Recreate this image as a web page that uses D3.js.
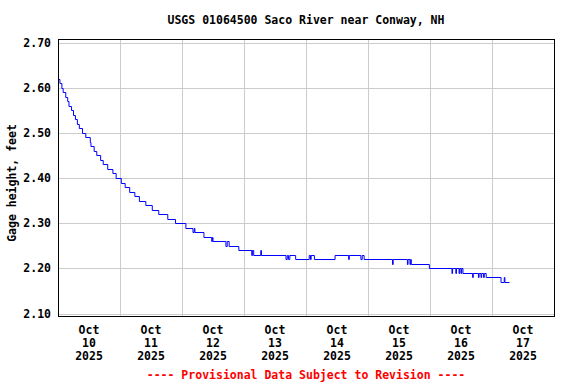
<!DOCTYPE html>
<html>
<head>
<meta charset="utf-8">
<script src="https://cdn.jsdelivr.net/npm/d3@7"></script>
<style>
  body { margin: 0; background: #fff; }
  text { font-family: "DejaVu Sans Mono", monospace; font-weight: bold; font-size: 11.5px; }
</style>
</head>
<body>
<div id="chart"></div>
<script>
// gage height readings, only where the value changes (15 minute data)
const readingTimes = [
  "2025-10-10 00:00", "2025-10-10 00:45", "2025-10-10 01:30", "2025-10-10 02:00",
  "2025-10-10 03:00", "2025-10-10 03:45", "2025-10-10 04:15", "2025-10-10 05:15",
  "2025-10-10 06:00", "2025-10-10 06:45", "2025-10-10 07:30", "2025-10-10 08:15",
  "2025-10-10 09:30", "2025-10-10 10:45", "2025-10-10 12:30", "2025-10-10 12:45",
  "2025-10-10 14:00", "2025-10-10 15:00", "2025-10-10 16:30", "2025-10-10 17:30",
  "2025-10-10 19:15", "2025-10-10 21:15", "2025-10-10 22:30",
  "2025-10-11 00:30", "2025-10-11 02:00", "2025-10-11 03:45", "2025-10-11 05:45",
  "2025-10-11 07:30", "2025-10-11 10:00", "2025-10-11 12:30", "2025-10-11 15:00",
  "2025-10-11 18:30", "2025-10-11 21:30",
  "2025-10-12 01:30", "2025-10-12 04:15", "2025-10-12 04:45", "2025-10-12 05:00",
  "2025-10-12 08:30", "2025-10-12 11:30", "2025-10-12 11:45", "2025-10-12 12:00",
  "2025-10-12 17:00", "2025-10-12 17:30", "2025-10-12 18:15", "2025-10-12 22:00",
  "2025-10-13 03:00", "2025-10-13 03:15", "2025-10-13 03:45", "2025-10-13 06:30",
  "2025-10-13 06:45", "2025-10-13 16:15", "2025-10-13 16:45", "2025-10-13 17:15",
  "2025-10-13 17:45", "2025-10-13 20:00",
  "2025-10-14 01:15", "2025-10-14 01:45", "2025-10-14 02:00", "2025-10-14 03:15",
  "2025-10-14 11:15", "2025-10-14 16:30", "2025-10-14 16:45", "2025-10-14 21:15",
  "2025-10-14 21:45", "2025-10-14 22:30",
  "2025-10-15 09:30", "2025-10-15 09:45", "2025-10-15 15:15", "2025-10-15 15:30",
  "2025-10-15 16:15", "2025-10-15 16:30", "2025-10-15 16:45", "2025-10-15 23:45",
  "2025-10-16 08:30", "2025-10-16 08:45", "2025-10-16 10:00", "2025-10-16 10:15",
  "2025-10-16 11:15", "2025-10-16 11:30", "2025-10-16 12:00", "2025-10-16 12:15",
  "2025-10-16 12:45", "2025-10-16 16:30", "2025-10-16 16:45", "2025-10-16 18:45",
  "2025-10-16 19:00", "2025-10-16 19:45", "2025-10-16 20:00", "2025-10-16 20:45",
  "2025-10-16 21:00", "2025-10-16 21:45",
  "2025-10-17 03:30", "2025-10-17 04:45", "2025-10-17 05:00", "2025-10-17 06:45"
];
const gageHeights = [
  2.62, 2.61, 2.60, 2.59,
  2.58, 2.57, 2.56, 2.55,
  2.54, 2.53, 2.52, 2.51,
  2.50, 2.49, 2.48, 2.47,
  2.46, 2.45, 2.44, 2.43,
  2.42, 2.41, 2.40,
  2.39, 2.38, 2.37, 2.36,
  2.35, 2.34, 2.33, 2.32,
  2.31, 2.30,
  2.29, 2.28, 2.29, 2.28,
  2.27, 2.26, 2.27, 2.26,
  2.25, 2.26, 2.25, 2.24,
  2.23, 2.24, 2.23, 2.24,
  2.23, 2.22, 2.23, 2.22,
  2.23, 2.22,
  2.23, 2.22, 2.23, 2.22,
  2.23, 2.22, 2.23, 2.22,
  2.23, 2.22,
  2.21, 2.22, 2.21, 2.22,
  2.21, 2.22, 2.21, 2.20,
  2.19, 2.20, 2.19, 2.20,
  2.19, 2.20, 2.19, 2.20,
  2.19, 2.18, 2.19, 2.18,
  2.19, 2.18, 2.19, 2.18,
  2.19, 2.18,
  2.17, 2.18, 2.17, 2.17
];

const yTicks = [2.10, 2.20, 2.30, 2.40, 2.50, 2.60, 2.70];
const dateRange = ["2025-10-10 00:00", "2025-10-18 00:00"];

const title = "USGS 01064500 Saco River near Conway, NH";
const yLabel = "Gage height, feet";
const footnote = "---- Provisional Data Subject to Revision ----";

const width = 576, height = 384;
// plot frame
const frame = {left: 58, right: 554, top: 39, bottom: 316};

const parseTime = d3.timeParse("%Y-%m-%d %H:%M");
const data = readingTimes.map((t, i) => ({date: parseTime(t), value: gageHeights[i]}));

let svg = d3.select("#chart").append("svg")
  .attr("width", width)
  .attr("height", height);

let x = d3.scaleTime()
  .domain(dateRange.map(parseTime))
  .range([frame.left, frame.right]);

let y = d3.scaleLinear()
  .domain([2.10, 2.70])
  .range([313.5, 42.5]);

//gridlines
let days = d3.timeDay.range(x.domain()[0], x.domain()[1]);

svg.append("g")
  .selectAll("line")
  .data(days.slice(1))
  .join("line")
  .attr("x1", d => Math.round(x(d)) + 0.5)
  .attr("x2", d => Math.round(x(d)) + 0.5)
  .attr("y1", frame.top)
  .attr("y2", frame.bottom)
  .attr("stroke", "#cccccc");

svg.append("g")
  .selectAll("line")
  .data(yTicks)
  .join("line")
  .attr("x1", frame.left)
  .attr("x2", frame.right)
  .attr("y1", d => Math.round(y(d)) + 0.5)
  .attr("y2", d => Math.round(y(d)) + 0.5)
  .attr("stroke", "#cccccc");

//the gage height line
let line = d3.line()
  .x(d => x(d.date))
  .y(d => Math.round(y(d.value)) + 0.5)
  .curve(d3.curveStepAfter);

svg.append("path")
  .datum(data)
  .attr("d", line)
  .attr("fill", "none")
  .attr("stroke", "#0000ff")
  .attr("stroke-width", 1);

//frame
svg.append("rect")
  .attr("x", frame.left + 0.5)
  .attr("y", frame.top + 0.5)
  .attr("width", frame.right - frame.left)
  .attr("height", frame.bottom - frame.top)
  .attr("fill", "none")
  .attr("stroke", "black")
  .attr("stroke-width", 1);

//y tick labels
svg.append("g")
  .selectAll("text")
  .data(yTicks)
  .join("text")
  .attr("x", 51)
  .attr("y", d => y(d) + 4)
  .attr("text-anchor", "end")
  .text(d => d3.format(".2f")(d));

//x tick labels, centred on noon of each day
let fmtMonth = d3.timeFormat("%b"), fmtDay = d3.timeFormat("%-d"), fmtYear = d3.timeFormat("%Y");
let xLabels = svg.append("g")
  .selectAll("text")
  .data(days)
  .join("text")
  .attr("text-anchor", "middle");

xLabels.append("tspan")
  .attr("x", d => x(d3.timeHour.offset(d, 12)))
  .attr("y", 334)
  .text(fmtMonth);
xLabels.append("tspan")
  .attr("x", d => x(d3.timeHour.offset(d, 12)))
  .attr("y", 347)
  .text(fmtDay);
xLabels.append("tspan")
  .attr("x", d => x(d3.timeHour.offset(d, 12)))
  .attr("y", 360)
  .text(fmtYear);

svg.append("text")
  .attr("x", (frame.left + frame.right) / 2)
  .attr("y", 24)
  .attr("text-anchor", "middle")
  .text(title);

svg.append("text")
  .attr("transform", "translate(16,183) rotate(-90)")
  .attr("text-anchor", "middle")
  .text(yLabel);

svg.append("text")
  .attr("x", (frame.left + frame.right) / 2)
  .attr("y", 379)
  .attr("text-anchor", "middle")
  .attr("fill", "#ff0000")
  .text(footnote);
</script>
</body>
</html>
